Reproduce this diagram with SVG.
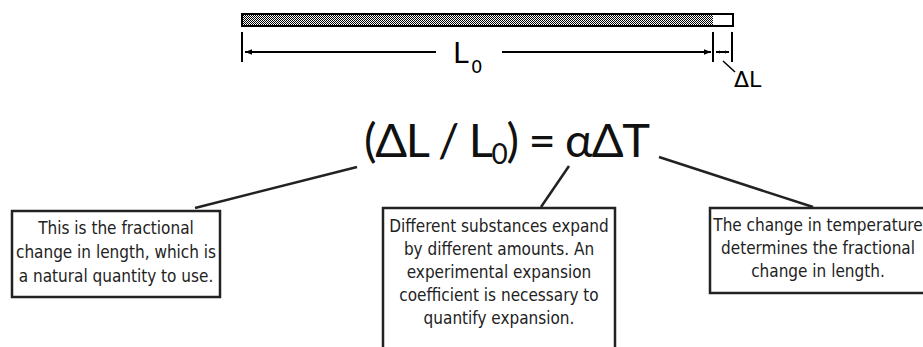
<svg xmlns="http://www.w3.org/2000/svg" width="923" height="347" viewBox="0 0 923 347">
<style>
.box{fill:#fff;stroke:#222;stroke-width:2.5}
.lead{stroke:#222;stroke-width:2.5;fill:none}
.bt{font-family:"Liberation Sans Narrow","DejaVu Sans Condensed",sans-serif;font-stretch:condensed;font-size:17px;fill:#222;text-anchor:middle}
.dim{stroke:#000;stroke-width:2;fill:none}
.lbl{font-family:"DejaVu Sans",sans-serif;fill:#000}
.eq{font-family:Lato,"Open Sans",sans-serif;font-size:47px;fill:#111;letter-spacing:-1.3px}
</style>
<defs>
<pattern id="dith" width="2" height="2" patternUnits="userSpaceOnUse">
<rect width="2" height="2" fill="#fff"/>
<rect width="1" height="1" fill="#000"/>
<rect x="1" y="1" width="1" height="1" fill="#000"/>
</pattern>
<marker id="ah" viewBox="0 0 10 10" refX="10" refY="5" markerWidth="7" markerHeight="7" orient="auto-start-reverse" markerUnits="userSpaceOnUse">
<path d="M0,1 L10,5 L0,9 Z" fill="#000"/>
</marker>
<marker id="sah" viewBox="0 0 10 10" refX="10" refY="5" markerWidth="4" markerHeight="4" orient="auto-start-reverse" markerUnits="userSpaceOnUse">
<path d="M0,1 L10,5 L0,9 Z" fill="#000"/>
</marker>
</defs>
<g id="rod">
<rect x="242" y="14" width="471" height="12" fill="url(#dith)"/>
<rect x="713" y="14" width="20" height="12" fill="#fff"/>
<rect x="242" y="14" width="491" height="12" fill="none" stroke="#000" stroke-width="2"/>
</g>
<g id="dimension">
<line class="dim" x1="242" y1="32" x2="242" y2="62"/>
<line class="dim" x1="713" y1="32" x2="713" y2="62"/>
<line class="dim" x1="732" y1="32" x2="732" y2="62"/>
<line class="dim" x1="245" y1="52" x2="436" y2="52" marker-start="url(#ah)"/>
<line class="dim" x1="502" y1="52" x2="711" y2="52" marker-end="url(#ah)"/>
<line class="dim" x1="716" y1="52" x2="729" y2="52" marker-start="url(#sah)" marker-end="url(#sah)"/>
<line x1="723" y1="61" x2="735" y2="72" stroke="#000" stroke-width="1.5"/>
<text class="lbl" x="453" y="63" font-size="28">L</text>
<text class="lbl" x="471" y="73" font-size="18">0</text>
<text class="lbl" x="734" y="87" font-size="22">ΔL</text>
</g>
<g id="equation">
<text class="eq" x="364" y="157">(ΔL / L<tspan font-size="28" dy="7">0</tspan><tspan dy="-7">) = αΔT</tspan></text>
</g>
<g id="connectors">
<line class="lead" x1="195" y1="208" x2="357" y2="167"/>
<line class="lead" x1="541" y1="207" x2="569" y2="166"/>
<line class="lead" x1="813" y1="207" x2="659" y2="157"/>
</g>
<g id="box-left">
<rect class="box" x="12" y="211" width="208" height="86"/>
<text class="bt" x="116" y="234">This is the fractional</text>
<text class="bt" x="116" y="258">change in length, which is</text>
<text class="bt" x="116" y="282">a natural quantity to use.</text>
</g>
<g id="box-middle">
<rect class="box" x="383" y="208" width="232" height="150"/>
<text class="bt" x="499" y="232">Different substances expand</text>
<text class="bt" x="499" y="255">by different amounts. An</text>
<text class="bt" x="499" y="278">experimental expansion</text>
<text class="bt" x="499" y="301">coefficient is necessary to</text>
<text class="bt" x="499" y="324">quantify expansion.</text>
</g>
<g id="box-right">
<rect class="box" x="710" y="208" width="222" height="85"/>
<text class="bt" x="818" y="231">The change in temperature</text>
<text class="bt" x="818" y="254">determines the fractional</text>
<text class="bt" x="818" y="277">change in length.</text>
</g>
</svg>
